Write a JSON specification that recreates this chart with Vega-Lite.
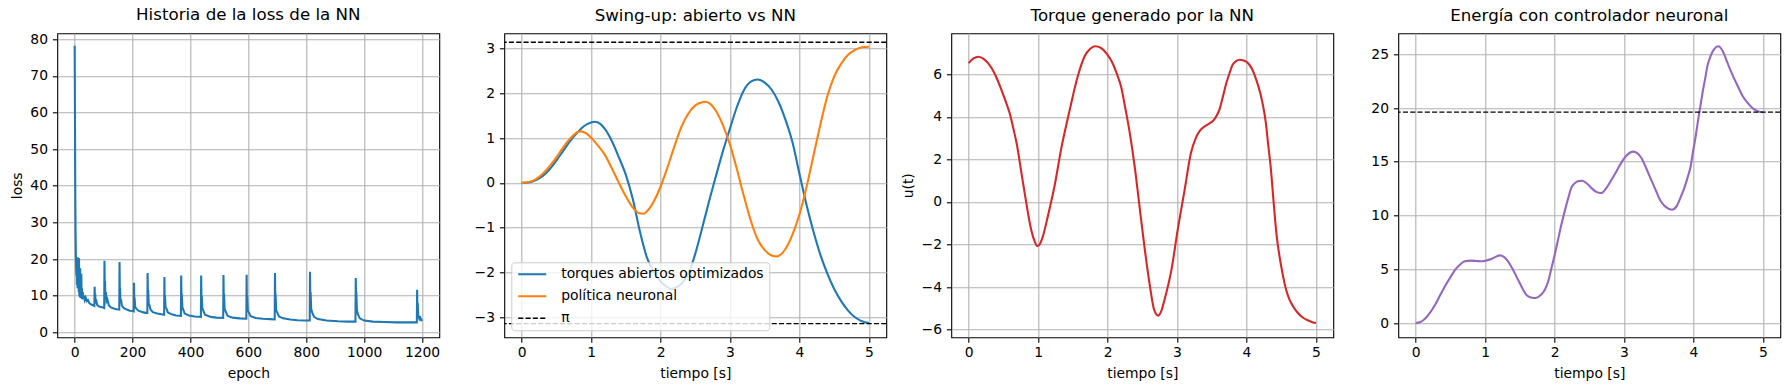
{
  "$schema": "https://vega.github.io/schema/vega-lite/v6.json",
  "background": "white",
  "autosize": {"type": "none"},
  "padding": {"left": 57.3, "top": 33.3, "right": 1732.7, "bottom": 356.7},
  "bounds": "flush",
  "spacing": 65,
  "resolve": {"scale": {"color": "independent"}, "legend": {"color": "independent"}},
  "datasets": {
    "loss": [
      {"epoch": 0, "loss": 78.2}, {"epoch": 1, "loss": 60}, {"epoch": 2, "loss": 40}, {"epoch": 3, "loss": 28}, {"epoch": 4, "loss": 22}, {"epoch": 5, "loss": 18}, {"epoch": 6, "loss": 15.5}, {"epoch": 7, "loss": 17}, {"epoch": 8, "loss": 13}, {"epoch": 9, "loss": 19.5}, {"epoch": 10, "loss": 12}, {"epoch": 11, "loss": 20.5}, {"epoch": 12, "loss": 14}, {"epoch": 13, "loss": 17}, {"epoch": 14, "loss": 11}, {"epoch": 15, "loss": 20.2}, {"epoch": 16, "loss": 10}, {"epoch": 17, "loss": 15}, {"epoch": 18, "loss": 9.5}, {"epoch": 19, "loss": 17.5}, {"epoch": 20, "loss": 10}, {"epoch": 21, "loss": 13}, {"epoch": 22, "loss": 9.3}, {"epoch": 23, "loss": 16}, {"epoch": 24, "loss": 9.5}, {"epoch": 25, "loss": 12}, {"epoch": 26, "loss": 9.0}, {"epoch": 28, "loss": 11}, {"epoch": 30, "loss": 9.0}, {"epoch": 32, "loss": 10}, {"epoch": 35, "loss": 8.8}, {"epoch": 38, "loss": 9.5}, {"epoch": 42, "loss": 8.5}, {"epoch": 46, "loss": 8.8}, {"epoch": 50, "loss": 8.0}, {"epoch": 55, "loss": 7.7}, {"epoch": 60, "loss": 7.5}, {"epoch": 65, "loss": 7.3}, {"epoch": 68, "loss": 7.2},
      {"epoch": 69, "loss": 12.4}, {"epoch": 70, "loss": 9}, {"epoch": 71, "loss": 10.5}, {"epoch": 72, "loss": 8.2}, {"epoch": 75, "loss": 8.5}, {"epoch": 78, "loss": 7.4}, {"epoch": 85, "loss": 7.0}, {"epoch": 95, "loss": 6.8}, {"epoch": 102, "loss": 6.6},
      {"epoch": 103, "loss": 19.5}, {"epoch": 104, "loss": 12}, {"epoch": 105, "loss": 14}, {"epoch": 106, "loss": 9.5}, {"epoch": 108, "loss": 11}, {"epoch": 110, "loss": 8.5}, {"epoch": 113, "loss": 9}, {"epoch": 118, "loss": 7.4}, {"epoch": 125, "loss": 6.8}, {"epoch": 135, "loss": 6.5}, {"epoch": 145, "loss": 6.3}, {"epoch": 154, "loss": 6.2},
      {"epoch": 155, "loss": 19.2}, {"epoch": 156, "loss": 11}, {"epoch": 157, "loss": 12}, {"epoch": 158, "loss": 8.5}, {"epoch": 160, "loss": 9}, {"epoch": 163, "loss": 7.3}, {"epoch": 170, "loss": 6.6}, {"epoch": 180, "loss": 6.2}, {"epoch": 190, "loss": 5.9}, {"epoch": 200, "loss": 5.8}, {"epoch": 204, "loss": 5.7},
      {"epoch": 205, "loss": 13.5}, {"epoch": 206, "loss": 8.5}, {"epoch": 207, "loss": 9.5}, {"epoch": 209, "loss": 7}, {"epoch": 212, "loss": 6.5}, {"epoch": 220, "loss": 5.9}, {"epoch": 235, "loss": 5.5}, {"epoch": 245, "loss": 5.3}, {"epoch": 251, "loss": 5.3},
      {"epoch": 252, "loss": 16.2}, {"epoch": 253, "loss": 10}, {"epoch": 254, "loss": 11.5}, {"epoch": 256, "loss": 7.5}, {"epoch": 258, "loss": 7.5}, {"epoch": 262, "loss": 6.2}, {"epoch": 270, "loss": 5.5}, {"epoch": 285, "loss": 5.1}, {"epoch": 300, "loss": 4.9}, {"epoch": 309, "loss": 4.8},
      {"epoch": 310, "loss": 15.1}, {"epoch": 311, "loss": 9}, {"epoch": 312, "loss": 10}, {"epoch": 314, "loss": 6.8}, {"epoch": 317, "loss": 6.5}, {"epoch": 322, "loss": 5.4}, {"epoch": 335, "loss": 4.9}, {"epoch": 350, "loss": 4.6}, {"epoch": 367, "loss": 4.5},
      {"epoch": 368, "loss": 15.5}, {"epoch": 369, "loss": 9.5}, {"epoch": 370, "loss": 10.5}, {"epoch": 372, "loss": 6.8}, {"epoch": 375, "loss": 6.2}, {"epoch": 380, "loss": 5.1}, {"epoch": 395, "loss": 4.6}, {"epoch": 415, "loss": 4.3}, {"epoch": 436, "loss": 4.2},
      {"epoch": 437, "loss": 15.5}, {"epoch": 438, "loss": 9}, {"epoch": 439, "loss": 10}, {"epoch": 441, "loss": 6.5}, {"epoch": 444, "loss": 6}, {"epoch": 450, "loss": 4.8}, {"epoch": 470, "loss": 4.2}, {"epoch": 490, "loss": 4.0}, {"epoch": 513, "loss": 3.9},
      {"epoch": 514, "loss": 15.6}, {"epoch": 515, "loss": 9}, {"epoch": 516, "loss": 10.5}, {"epoch": 518, "loss": 6.3}, {"epoch": 521, "loss": 5.8}, {"epoch": 528, "loss": 4.5}, {"epoch": 545, "loss": 4.0}, {"epoch": 570, "loss": 3.8}, {"epoch": 593, "loss": 3.7},
      {"epoch": 594, "loss": 15.7}, {"epoch": 595, "loss": 8.5}, {"epoch": 596, "loss": 10}, {"epoch": 598, "loss": 6}, {"epoch": 601, "loss": 5.5}, {"epoch": 608, "loss": 4.4}, {"epoch": 625, "loss": 3.9}, {"epoch": 650, "loss": 3.7}, {"epoch": 675, "loss": 3.6}, {"epoch": 691, "loss": 3.5},
      {"epoch": 692, "loss": 16.2}, {"epoch": 693, "loss": 9}, {"epoch": 694, "loss": 10.5}, {"epoch": 696, "loss": 6}, {"epoch": 699, "loss": 5.5}, {"epoch": 706, "loss": 4.3}, {"epoch": 720, "loss": 3.8}, {"epoch": 745, "loss": 3.5}, {"epoch": 770, "loss": 3.3}, {"epoch": 795, "loss": 3.2}, {"epoch": 812, "loss": 3.2},
      {"epoch": 813, "loss": 16.5}, {"epoch": 814, "loss": 9.5}, {"epoch": 815, "loss": 11}, {"epoch": 817, "loss": 6.5}, {"epoch": 820, "loss": 5.5}, {"epoch": 827, "loss": 4.2}, {"epoch": 840, "loss": 3.6}, {"epoch": 870, "loss": 3.2}, {"epoch": 910, "loss": 3.0}, {"epoch": 945, "loss": 2.9}, {"epoch": 970, "loss": 2.9},
      {"epoch": 971, "loss": 14.8}, {"epoch": 972, "loss": 10}, {"epoch": 973, "loss": 11}, {"epoch": 975, "loss": 6}, {"epoch": 978, "loss": 5}, {"epoch": 985, "loss": 3.8}, {"epoch": 1000, "loss": 3.2}, {"epoch": 1030, "loss": 2.9}, {"epoch": 1070, "loss": 2.8}, {"epoch": 1110, "loss": 2.7}, {"epoch": 1150, "loss": 2.7}, {"epoch": 1182, "loss": 2.7},
      {"epoch": 1183, "loss": 11.6}, {"epoch": 1184, "loss": 6}, {"epoch": 1185, "loss": 8}, {"epoch": 1187, "loss": 4.5}, {"epoch": 1190, "loss": 3.8}, {"epoch": 1193, "loss": 4.5}, {"epoch": 1195, "loss": 3.2}, {"epoch": 1197, "loss": 3.8}, {"epoch": 1199, "loss": 3.0}
    ],
    "swing": [
      {"t": 0.0, "v": 0, "serie": "torques abiertos optimizados"}, {"t": 0.1, "v": 0.01, "serie": "torques abiertos optimizados"}, {"t": 0.2, "v": 0.06, "serie": "torques abiertos optimizados"}, {"t": 0.3, "v": 0.15, "serie": "torques abiertos optimizados"}, {"t": 0.4, "v": 0.3, "serie": "torques abiertos optimizados"}, {"t": 0.5, "v": 0.5, "serie": "torques abiertos optimizados"}, {"t": 0.6, "v": 0.72, "serie": "torques abiertos optimizados"}, {"t": 0.7, "v": 0.94, "serie": "torques abiertos optimizados"}, {"t": 0.8, "v": 1.12, "serie": "torques abiertos optimizados"}, {"t": 0.9, "v": 1.27, "serie": "torques abiertos optimizados"}, {"t": 1.0, "v": 1.35, "serie": "torques abiertos optimizados"}, {"t": 1.05, "v": 1.365, "serie": "torques abiertos optimizados"}, {"t": 1.1, "v": 1.35, "serie": "torques abiertos optimizados"}, {"t": 1.2, "v": 1.2, "serie": "torques abiertos optimizados"}, {"t": 1.3, "v": 0.93, "serie": "torques abiertos optimizados"}, {"t": 1.4, "v": 0.57, "serie": "torques abiertos optimizados"}, {"t": 1.5, "v": 0.18, "serie": "torques abiertos optimizados"}, {"t": 1.6, "v": -0.36, "serie": "torques abiertos optimizados"}, {"t": 1.7, "v": -1.07, "serie": "torques abiertos optimizados"}, {"t": 1.8, "v": -1.65, "serie": "torques abiertos optimizados"}, {"t": 1.9, "v": -1.98, "serie": "torques abiertos optimizados"}, {"t": 2.0, "v": -2.2, "serie": "torques abiertos optimizados"}, {"t": 2.1, "v": -2.33, "serie": "torques abiertos optimizados"}, {"t": 2.15, "v": -2.37, "serie": "torques abiertos optimizados"}, {"t": 2.2, "v": -2.35, "serie": "torques abiertos optimizados"}, {"t": 2.3, "v": -2.25, "serie": "torques abiertos optimizados"}, {"t": 2.4, "v": -2.03, "serie": "torques abiertos optimizados"}, {"t": 2.5, "v": -1.58, "serie": "torques abiertos optimizados"}, {"t": 2.6, "v": -1.0, "serie": "torques abiertos optimizados"}, {"t": 2.7, "v": -0.4, "serie": "torques abiertos optimizados"}, {"t": 2.8, "v": 0.17, "serie": "torques abiertos optimizados"}, {"t": 2.9, "v": 0.72, "serie": "torques abiertos optimizados"}, {"t": 3.0, "v": 1.22, "serie": "torques abiertos optimizados"}, {"t": 3.1, "v": 1.7, "serie": "torques abiertos optimizados"}, {"t": 3.2, "v": 2.07, "serie": "torques abiertos optimizados"}, {"t": 3.3, "v": 2.26, "serie": "torques abiertos optimizados"}, {"t": 3.4, "v": 2.31, "serie": "torques abiertos optimizados"}, {"t": 3.5, "v": 2.24, "serie": "torques abiertos optimizados"}, {"t": 3.6, "v": 2.08, "serie": "torques abiertos optimizados"}, {"t": 3.7, "v": 1.8, "serie": "torques abiertos optimizados"}, {"t": 3.8, "v": 1.4, "serie": "torques abiertos optimizados"}, {"t": 3.9, "v": 0.9, "serie": "torques abiertos optimizados"}, {"t": 4.0, "v": 0.2, "serie": "torques abiertos optimizados"}, {"t": 4.1, "v": -0.48, "serie": "torques abiertos optimizados"}, {"t": 4.2, "v": -1.08, "serie": "torques abiertos optimizados"}, {"t": 4.3, "v": -1.6, "serie": "torques abiertos optimizados"}, {"t": 4.4, "v": -2.02, "serie": "torques abiertos optimizados"}, {"t": 4.5, "v": -2.37, "serie": "torques abiertos optimizados"}, {"t": 4.6, "v": -2.64, "serie": "torques abiertos optimizados"}, {"t": 4.7, "v": -2.85, "serie": "torques abiertos optimizados"}, {"t": 4.8, "v": -3.0, "serie": "torques abiertos optimizados"}, {"t": 4.9, "v": -3.09, "serie": "torques abiertos optimizados"}, {"t": 5.0, "v": -3.13, "serie": "torques abiertos optimizados"},
      {"t": 0.0, "v": 0, "serie": "política neuronal"}, {"t": 0.1, "v": 0.02, "serie": "política neuronal"}, {"t": 0.2, "v": 0.08, "serie": "política neuronal"}, {"t": 0.3, "v": 0.2, "serie": "política neuronal"}, {"t": 0.4, "v": 0.37, "serie": "política neuronal"}, {"t": 0.5, "v": 0.57, "serie": "política neuronal"}, {"t": 0.6, "v": 0.8, "serie": "política neuronal"}, {"t": 0.7, "v": 0.99, "serie": "política neuronal"}, {"t": 0.8, "v": 1.13, "serie": "política neuronal"}, {"t": 0.85, "v": 1.15, "serie": "política neuronal"}, {"t": 0.9, "v": 1.13, "serie": "política neuronal"}, {"t": 1.0, "v": 1.01, "serie": "política neuronal"}, {"t": 1.1, "v": 0.83, "serie": "política neuronal"}, {"t": 1.2, "v": 0.62, "serie": "política neuronal"}, {"t": 1.3, "v": 0.32, "serie": "política neuronal"}, {"t": 1.4, "v": 0.0, "serie": "política neuronal"}, {"t": 1.5, "v": -0.3, "serie": "política neuronal"}, {"t": 1.6, "v": -0.55, "serie": "política neuronal"}, {"t": 1.7, "v": -0.68, "serie": "política neuronal"}, {"t": 1.75, "v": -0.69, "serie": "política neuronal"}, {"t": 1.8, "v": -0.64, "serie": "política neuronal"}, {"t": 1.9, "v": -0.42, "serie": "política neuronal"}, {"t": 2.0, "v": -0.08, "serie": "política neuronal"}, {"t": 2.1, "v": 0.35, "serie": "política neuronal"}, {"t": 2.2, "v": 0.82, "serie": "política neuronal"}, {"t": 2.3, "v": 1.25, "serie": "política neuronal"}, {"t": 2.4, "v": 1.55, "serie": "política neuronal"}, {"t": 2.5, "v": 1.73, "serie": "política neuronal"}, {"t": 2.6, "v": 1.8, "serie": "política neuronal"}, {"t": 2.65, "v": 1.81, "serie": "política neuronal"}, {"t": 2.7, "v": 1.78, "serie": "política neuronal"}, {"t": 2.8, "v": 1.6, "serie": "política neuronal"}, {"t": 2.9, "v": 1.28, "serie": "política neuronal"}, {"t": 3.0, "v": 0.85, "serie": "política neuronal"}, {"t": 3.1, "v": 0.3, "serie": "política neuronal"}, {"t": 3.2, "v": -0.3, "serie": "política neuronal"}, {"t": 3.3, "v": -0.85, "serie": "política neuronal"}, {"t": 3.4, "v": -1.27, "serie": "política neuronal"}, {"t": 3.5, "v": -1.5, "serie": "política neuronal"}, {"t": 3.6, "v": -1.62, "serie": "política neuronal"}, {"t": 3.68, "v": -1.64, "serie": "política neuronal"}, {"t": 3.7, "v": -1.63, "serie": "política neuronal"}, {"t": 3.8, "v": -1.47, "serie": "política neuronal"}, {"t": 3.9, "v": -1.15, "serie": "política neuronal"}, {"t": 4.0, "v": -0.7, "serie": "política neuronal"}, {"t": 4.1, "v": -0.1, "serie": "política neuronal"}, {"t": 4.2, "v": 0.6, "serie": "política neuronal"}, {"t": 4.3, "v": 1.3, "serie": "política neuronal"}, {"t": 4.4, "v": 1.93, "serie": "política neuronal"}, {"t": 4.5, "v": 2.38, "serie": "política neuronal"}, {"t": 4.6, "v": 2.66, "serie": "política neuronal"}, {"t": 4.7, "v": 2.86, "serie": "política neuronal"}, {"t": 4.8, "v": 2.97, "serie": "política neuronal"}, {"t": 4.9, "v": 3.03, "serie": "política neuronal"}, {"t": 5.0, "v": 3.04, "serie": "política neuronal"}
    ],
    "pi": [
      {"v": 3.14159, "serie": "π"}, {"v": -3.14159, "serie": "π"}
    ],
    "torque": [
      {"t": 0, "u": 6.53}, {"t": 0.07, "u": 6.75}, {"t": 0.14, "u": 6.83}, {"t": 0.22, "u": 6.72}, {"t": 0.33, "u": 6.3}, {"t": 0.4, "u": 5.85}, {"t": 0.47, "u": 5.28}, {"t": 0.53, "u": 4.75}, {"t": 0.59, "u": 4.18}, {"t": 0.64, "u": 3.5}, {"t": 0.69, "u": 2.77}, {"t": 0.76, "u": 1.36}, {"t": 0.83, "u": -0.05}, {"t": 0.9, "u": -1.3}, {"t": 0.95, "u": -1.85}, {"t": 0.99, "u": -2.08}, {"t": 1.03, "u": -1.95}, {"t": 1.07, "u": -1.6}, {"t": 1.14, "u": -0.67}, {"t": 1.24, "u": 0.81}, {"t": 1.33, "u": 2.46}, {"t": 1.45, "u": 4.26}, {"t": 1.57, "u": 5.9}, {"t": 1.67, "u": 6.85}, {"t": 1.75, "u": 7.2}, {"t": 1.82, "u": 7.32}, {"t": 1.9, "u": 7.25}, {"t": 1.98, "u": 7.0}, {"t": 2.06, "u": 6.6}, {"t": 2.13, "u": 6.06}, {"t": 2.2, "u": 5.35}, {"t": 2.25, "u": 4.5}, {"t": 2.32, "u": 3.24}, {"t": 2.39, "u": 1.68}, {"t": 2.46, "u": -0.2}, {"t": 2.53, "u": -2.08}, {"t": 2.61, "u": -3.96}, {"t": 2.67, "u": -5.06}, {"t": 2.73, "u": -5.34}, {"t": 2.77, "u": -5.15}, {"t": 2.82, "u": -4.59}, {"t": 2.92, "u": -3.18}, {"t": 3.01, "u": -1.3}, {"t": 3.11, "u": 0.58}, {"t": 3.2, "u": 2.3}, {"t": 3.27, "u": 3.0}, {"t": 3.33, "u": 3.35}, {"t": 3.4, "u": 3.56}, {"t": 3.47, "u": 3.7}, {"t": 3.52, "u": 3.82}, {"t": 3.57, "u": 4.05}, {"t": 3.61, "u": 4.34}, {"t": 3.66, "u": 4.95}, {"t": 3.71, "u": 5.59}, {"t": 3.76, "u": 6.1}, {"t": 3.8, "u": 6.45}, {"t": 3.85, "u": 6.62}, {"t": 3.9, "u": 6.69}, {"t": 3.96, "u": 6.65}, {"t": 4.02, "u": 6.53}, {"t": 4.08, "u": 6.25}, {"t": 4.14, "u": 5.75}, {"t": 4.2, "u": 5.1}, {"t": 4.24, "u": 4.5}, {"t": 4.28, "u": 3.7}, {"t": 4.31, "u": 2.77}, {"t": 4.35, "u": 1.6}, {"t": 4.38, "u": 0.42}, {"t": 4.43, "u": -1.46}, {"t": 4.5, "u": -3.02}, {"t": 4.55, "u": -3.85}, {"t": 4.6, "u": -4.43}, {"t": 4.67, "u": -4.9}, {"t": 4.74, "u": -5.22}, {"t": 4.81, "u": -5.43}, {"t": 4.88, "u": -5.56}, {"t": 4.95, "u": -5.65}, {"t": 5.0, "u": -5.69}
    ],
    "energia": [
      {"t": 0, "e": 0}, {"t": 0.07, "e": 0.1}, {"t": 0.13, "e": 0.37}, {"t": 0.2, "e": 0.9}, {"t": 0.28, "e": 1.7}, {"t": 0.35, "e": 2.55}, {"t": 0.42, "e": 3.4}, {"t": 0.5, "e": 4.25}, {"t": 0.57, "e": 4.96}, {"t": 0.64, "e": 5.45}, {"t": 0.71, "e": 5.74}, {"t": 0.8, "e": 5.8}, {"t": 0.88, "e": 5.76}, {"t": 0.95, "e": 5.74}, {"t": 1.02, "e": 5.82}, {"t": 1.09, "e": 5.95}, {"t": 1.15, "e": 6.15}, {"t": 1.21, "e": 6.29}, {"t": 1.27, "e": 6.15}, {"t": 1.33, "e": 5.74}, {"t": 1.39, "e": 5.1}, {"t": 1.45, "e": 4.34}, {"t": 1.52, "e": 3.45}, {"t": 1.59, "e": 2.64}, {"t": 1.66, "e": 2.38}, {"t": 1.73, "e": 2.33}, {"t": 1.8, "e": 2.6}, {"t": 1.86, "e": 3.1}, {"t": 1.91, "e": 3.9}, {"t": 1.95, "e": 4.96}, {"t": 2.0, "e": 6.3}, {"t": 2.05, "e": 7.75}, {"t": 2.1, "e": 9.2}, {"t": 2.15, "e": 10.5}, {"t": 2.2, "e": 11.7}, {"t": 2.24, "e": 12.56}, {"t": 2.3, "e": 13.05}, {"t": 2.35, "e": 13.2}, {"t": 2.4, "e": 13.24}, {"t": 2.47, "e": 12.95}, {"t": 2.53, "e": 12.56}, {"t": 2.6, "e": 12.2}, {"t": 2.67, "e": 12.09}, {"t": 2.75, "e": 12.6}, {"t": 2.82, "e": 13.33}, {"t": 2.89, "e": 14.1}, {"t": 2.96, "e": 14.9}, {"t": 3.04, "e": 15.6}, {"t": 3.13, "e": 15.94}, {"t": 3.19, "e": 15.8}, {"t": 3.25, "e": 15.35}, {"t": 3.32, "e": 14.4}, {"t": 3.39, "e": 13.33}, {"t": 3.46, "e": 12.3}, {"t": 3.53, "e": 11.32}, {"t": 3.6, "e": 10.8}, {"t": 3.69, "e": 10.54}, {"t": 3.76, "e": 10.9}, {"t": 3.82, "e": 11.78}, {"t": 3.87, "e": 12.6}, {"t": 3.92, "e": 13.64}, {"t": 3.96, "e": 14.6}, {"t": 3.99, "e": 15.81}, {"t": 4.03, "e": 17.3}, {"t": 4.06, "e": 18.6}, {"t": 4.1, "e": 20.2}, {"t": 4.13, "e": 21.4}, {"t": 4.17, "e": 22.8}, {"t": 4.2, "e": 23.88}, {"t": 4.25, "e": 24.9}, {"t": 4.3, "e": 25.5}, {"t": 4.36, "e": 25.74}, {"t": 4.42, "e": 25.3}, {"t": 4.49, "e": 24.19}, {"t": 4.56, "e": 23.1}, {"t": 4.64, "e": 22.0}, {"t": 4.71, "e": 21.1}, {"t": 4.78, "e": 20.47}, {"t": 4.84, "e": 20.05}, {"t": 4.9, "e": 19.78}, {"t": 4.95, "e": 19.65}, {"t": 5.0, "e": 19.6}
    ],
    "eref": [{"e": 19.62}]
  },
  "hconcat": [
    {
      "width": 382, "height": 304,
      "title": "Historia de la loss de la NN",
      "data": {"name": "loss"},
      "mark": {"type": "line", "color": "#1f77b4", "strokeWidth": 2.08},
      "encoding": {
        "x": {"field": "epoch", "type": "quantitative", "scale": {"domain": [-60, 1259.6], "nice": false, "zero": false}, "axis": {"values": [0, 200, 400, 600, 800, 1000, 1200], "format": "d", "title": "epoch"}},
        "y": {"field": "loss", "type": "quantitative", "scale": {"domain": [-1.37, 81.6], "nice": false, "zero": false}, "axis": {"values": [0, 10, 20, 30, 40, 50, 60, 70, 80], "format": "d", "title": "loss", "titleX": -35.6}}
      }
    },
    {
      "width": 382, "height": 304,
      "title": "Swing-up: abierto vs NN",
      "layer": [
        {
          "data": {"name": "swing"},
          "mark": {"type": "line", "interpolate": "monotone", "strokeWidth": 2.08},
          "encoding": {
            "x": {"field": "t", "type": "quantitative", "scale": {"domain": [-0.25, 5.25], "nice": false, "zero": false}, "axis": {"values": [0, 1, 2, 3, 4, 5], "format": "d", "title": "tiempo [s]"}},
            "y": {"field": "v", "type": "quantitative", "scale": {"domain": [-3.447, 3.34], "nice": false, "zero": false}, "axis": {"values": [-3, -2, -1, 0, 1, 2, 3], "format": "d", "title": null}},
            "color": {"field": "serie", "type": "nominal", "scale": {"domain": ["torques abiertos optimizados", "política neuronal", "π"], "range": ["#1f77b4", "#ff7f0e", "#000000"]},
              "legend": {"title": null, "orient": "bottom-left", "offset": 7, "symbolType": "stroke", "symbolSize": 784, "symbolStrokeWidth": 2.08, "symbolOffset": 9, "labelFontSize": 13.89, "labelFont": "DejaVu Sans", "labelColor": "black", "labelLimit": 400, "fillColor": "rgba(255,255,255,0.8)", "strokeColor": "#cccccc", "cornerRadius": 3, "padding": 5, "rowPadding": 7, "labelOffset": 22,
                "encode": {"symbols": {"update": {"strokeDash": {"signal": "datum.label === 'π' ? [5.1, 2.2] : [1, 0]"}, "strokeWidth": {"signal": "datum.label === 'π' ? 1.39 : 2.08"}}}}}}
          }
        },
        {
          "data": {"name": "pi"},
          "mark": {"type": "rule", "strokeWidth": 1.39, "strokeDash": [5.1, 2.2]},
          "encoding": {
            "y": {"field": "v", "type": "quantitative", "scale": {"domain": [-3.447, 3.34], "nice": false, "zero": false}, "axis": {"values": [-3, -2, -1, 0, 1, 2, 3], "format": "d", "title": null}},
            "color": {"field": "serie", "type": "nominal"}
          }
        }
      ]
    },
    {
      "width": 382, "height": 304,
      "title": "Torque generado por la NN",
      "data": {"name": "torque"},
      "mark": {"type": "line", "color": "#d62728", "strokeWidth": 2.08, "interpolate": "monotone"},
      "encoding": {
        "x": {"field": "t", "type": "quantitative", "scale": {"domain": [-0.25, 5.25], "nice": false, "zero": false}, "axis": {"values": [0, 1, 2, 3, 4, 5], "format": "d", "title": "tiempo [s]"}},
        "y": {"field": "u", "type": "quantitative", "scale": {"domain": [-6.36, 7.93], "nice": false, "zero": false}, "axis": {"values": [-6, -4, -2, 0, 2, 4, 6], "format": "d", "title": "u(t)", "titleX": -38.4}}
      }
    },
    {
      "width": 382, "height": 304,
      "title": "Energía con controlador neuronal",
      "layer": [
        {
          "data": {"name": "energia"},
          "mark": {"type": "line", "color": "#9467bd", "strokeWidth": 2.08, "interpolate": "monotone"},
          "encoding": {
            "x": {"field": "t", "type": "quantitative", "scale": {"domain": [-0.25, 5.25], "nice": false, "zero": false}, "axis": {"values": [0, 1, 2, 3, 4, 5], "format": "d", "title": "tiempo [s]"}},
            "y": {"field": "e", "type": "quantitative", "scale": {"domain": [-1.33, 26.95], "nice": false, "zero": false}, "axis": {"values": [0, 5, 10, 15, 20, 25], "format": "d", "title": null}}
          }
        },
        {
          "data": {"name": "eref"},
          "mark": {"type": "rule", "color": "black", "strokeWidth": 1.39, "strokeDash": [5.1, 2.2]},
          "encoding": {
            "y": {"field": "e", "type": "quantitative", "axis": {"values": [0, 5, 10, 15, 20, 25], "format": "d", "title": null}}
          }
        }
      ]
    }
  ],
  "config": {
    "font": "DejaVu Sans",
    "view": {"stroke": "black", "strokeWidth": 1.1},
    "axis": {
      "grid": true, "gridColor": "#b0b0b0", "gridWidth": 1.1, "domain": false,
      "tickColor": "black", "tickWidth": 1.1, "tickSize": 4.9,
      "labelFont": "DejaVu Sans", "labelFontSize": 13.89, "labelColor": "black", "labelFlush": false, "labelOverlap": false,
      "titleFont": "DejaVu Sans", "titleFontSize": 13.89, "titleFontWeight": "normal", "titleColor": "black"
    },
    "axisX": {"labelPadding": 3.5, "titleBaseline": "alphabetic", "titleY": 40, "labelAngle": 0},
    "axisY": {"labelPadding": 4.9, "titleBaseline": "alphabetic"},
    "title": {"fontSize": 16.67, "fontWeight": "normal", "color": "black", "font": "DejaVu Sans", "offset": 8.3, "baseline": "alphabetic", "frame": "group", "anchor": "middle"}
  }
}
